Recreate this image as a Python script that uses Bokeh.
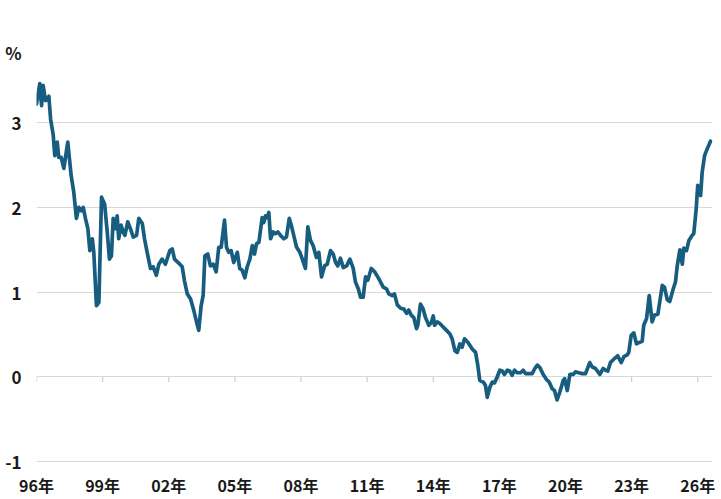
from bokeh.plotting import figure
from bokeh.models import ColumnDataSource, FixedTicker, Range1d
from bokeh.embed import file_html
from bokeh.resources import INLINE

# Japanese 10-year government bond yield (%)
years = [1996.00, 1996.15, 1996.23, 1996.30, 1996.41, 1996.56, 1996.64, 1996.76, 1996.83, 1996.94,
         1997.01, 1997.12, 1997.24, 1997.42, 1997.57, 1997.69, 1997.81, 1997.92, 1998.03, 1998.12,
         1998.22, 1998.33, 1998.42, 1998.53, 1998.60, 1998.72, 1998.83, 1998.95, 1999.09, 1999.21,
         1999.31, 1999.40, 1999.48, 1999.58, 1999.66, 1999.73, 1999.84, 1999.93, 2000.01, 2000.14,
         2000.26, 2000.39, 2000.54, 2000.64, 2000.80, 2000.90, 2001.02, 2001.17, 2001.29, 2001.44,
         2001.55, 2001.70, 2001.85, 2002.05, 2002.16, 2002.26, 2002.43, 2002.61, 2002.71, 2002.84,
         2002.99, 2003.14, 2003.26, 2003.36, 2003.47, 2003.56, 2003.64, 2003.77, 2003.89, 2004.02,
         2004.15, 2004.27, 2004.38, 2004.53, 2004.62, 2004.72, 2004.83, 2004.95, 2005.11, 2005.22,
         2005.33, 2005.45, 2005.56, 2005.68, 2005.79, 2005.89, 2005.98, 2006.09, 2006.24, 2006.31,
         2006.39, 2006.47, 2006.54, 2006.62, 2006.74, 2006.84, 2006.95, 2007.07, 2007.22, 2007.34,
         2007.47, 2007.56, 2007.67, 2007.80, 2007.95, 2008.06, 2008.20, 2008.31, 2008.43, 2008.55,
         2008.70, 2008.81, 2008.93, 2009.07, 2009.19, 2009.34, 2009.46, 2009.57, 2009.67, 2009.79,
         2009.92, 2010.07, 2010.22, 2010.37, 2010.47, 2010.60, 2010.70, 2010.82, 2010.93, 2011.03,
         2011.19, 2011.34, 2011.53, 2011.73, 2011.88, 2011.98, 2012.14, 2012.24, 2012.37, 2012.52,
         2012.67, 2012.79, 2012.89, 2013.00, 2013.12, 2013.24, 2013.30, 2013.42, 2013.53, 2013.65,
         2013.80, 2013.91, 2014.00, 2014.06, 2014.18, 2014.30, 2014.45, 2014.60, 2014.75, 2014.86,
         2014.98, 2015.09, 2015.21, 2015.31, 2015.42, 2015.57, 2015.77, 2015.92, 2016.02, 2016.11,
         2016.27, 2016.37, 2016.45, 2016.57, 2016.68, 2016.78, 2016.90, 2017.02, 2017.13, 2017.23,
         2017.36, 2017.47, 2017.58, 2017.69, 2017.81, 2017.96, 2018.08, 2018.19, 2018.34, 2018.49,
         2018.61, 2018.72, 2018.84, 2018.99, 2019.14, 2019.26, 2019.40, 2019.50, 2019.62, 2019.74,
         2019.90, 2019.96, 2020.08, 2020.20, 2020.35, 2020.45, 2020.60, 2020.76, 2020.91, 2021.10,
         2021.21, 2021.36, 2021.56, 2021.71, 2021.82, 2021.92, 2022.04, 2022.19, 2022.37, 2022.53,
         2022.65, 2022.80, 2022.87, 2022.98, 2023.10, 2023.22, 2023.37, 2023.48, 2023.55, 2023.68,
         2023.80, 2023.93, 2024.04, 2024.19, 2024.28, 2024.39, 2024.49, 2024.62, 2024.73, 2024.89,
         2024.99, 2025.07, 2025.19, 2025.30, 2025.37, 2025.49, 2025.60, 2025.75, 2025.82, 2025.93,
         2026.00, 2026.13, 2026.20, 2026.31, 2026.43, 2026.58]

yields = [3.22, 3.46, 3.20, 3.44, 3.26, 3.31, 3.04, 2.85, 2.61, 2.77,
          2.59, 2.59, 2.46, 2.77, 2.38, 2.18, 1.87, 2.00, 1.96, 2.00,
          1.87, 1.75, 1.49, 1.63, 1.47, 0.84, 0.88, 2.12, 2.04, 1.71,
          1.39, 1.43, 1.87, 1.75, 1.90, 1.63, 1.79, 1.71, 1.67, 1.83,
          1.75, 1.65, 1.67, 1.87, 1.81, 1.63, 1.47, 1.28, 1.30, 1.20,
          1.33, 1.39, 1.33, 1.49, 1.51, 1.39, 1.35, 1.30, 1.14, 0.98,
          0.92, 0.78, 0.65, 0.55, 0.84, 0.96, 1.43, 1.45, 1.31, 1.33,
          1.24, 1.53, 1.53, 1.85, 1.53, 1.47, 1.49, 1.35, 1.47, 1.28,
          1.26, 1.17, 1.30, 1.39, 1.55, 1.45, 1.57, 1.59, 1.88, 1.82,
          1.90, 1.88, 1.94, 1.63, 1.71, 1.69, 1.71, 1.67, 1.63, 1.65,
          1.87, 1.79, 1.67, 1.53, 1.47, 1.39, 1.28, 1.77, 1.61, 1.55,
          1.41, 1.47, 1.18, 1.31, 1.33, 1.49, 1.45, 1.35, 1.31, 1.40,
          1.29, 1.31, 1.39, 1.28, 1.12, 1.04, 0.94, 0.94, 1.18, 1.14,
          1.28, 1.24, 1.16, 1.06, 1.04, 0.98, 0.96, 0.98, 0.85, 0.81,
          0.80, 0.75, 0.79, 0.73, 0.70, 0.57, 0.61, 0.86, 0.81, 0.70,
          0.61, 0.64, 0.72, 0.61, 0.65, 0.63, 0.59, 0.55, 0.51, 0.45,
          0.31, 0.29, 0.39, 0.35, 0.45, 0.41, 0.33, 0.29, 0.14, -0.04,
          -0.06, -0.10, -0.24, -0.12, -0.06, -0.07, 0.00, 0.08, 0.07, 0.03,
          0.08, 0.07, 0.02, 0.08, 0.05, 0.05, 0.08, 0.04, 0.04, 0.04,
          0.10, 0.14, 0.11, 0.03, -0.03, -0.06, -0.14, -0.16, -0.27, -0.18,
          -0.04, -0.02, -0.16, 0.03, 0.03, 0.06, 0.05, 0.04, 0.04, 0.17,
          0.12, 0.10, 0.03, 0.10, 0.08, 0.07, 0.17, 0.21, 0.25, 0.17,
          0.24, 0.26, 0.29, 0.49, 0.52, 0.39, 0.41, 0.42, 0.61, 0.69,
          0.96, 0.65, 0.73, 0.74, 0.89, 1.08, 1.06, 0.91, 0.89, 1.04,
          1.12, 1.31, 1.50, 1.33, 1.52, 1.49, 1.61, 1.67, 1.69, 1.98,
          2.26, 2.14, 2.41, 2.61, 2.69, 2.78]

tick_years = [1996, 1999, 2002, 2005, 2008, 2011, 2014, 2017, 2020, 2023, 2026]
tick_labels = ["96年", "99年", "02年", "05年", "08年", "11年", "14年", "17年", "20年", "23年", "26年"]
y_ticks = [-1, 0, 1, 2, 3]
y_tick_labels = ["-1", "0", "1", "2", "3"]
unit_label = "%"
unit_pos = 3.83   # where the unit sits on the value axis

FONT = "Noto Sans CJK JP"
LINE_COLOR = "#175d80"
GRID_COLOR = "#d9d9d9"

source = ColumnDataSource(data=dict(x=years, y=yields))

p = figure(width=721, height=499, output_backend="svg", toolbar_location=None,
           x_range=Range1d(1996.0, 2026.67), y_range=Range1d(-1.079, 3.897),
           min_border_left=36, min_border_right=9, min_border_top=46, min_border_bottom=31)
p.outline_line_color = None
p.background_fill_color = "white"
p.border_fill_color = "white"

# grid
p.xgrid.grid_line_color = None
p.ygrid.grid_line_color = GRID_COLOR
p.ygrid.grid_line_width = 1
p.ygrid.ticker = FixedTicker(ticks=y_ticks)

# small tick marks hanging from the zero line at each labelled year
p.segment(x0=tick_years, y0=[0] * len(tick_years), x1=tick_years,
          y1=[-0.06] * len(tick_years), line_color="#cfcfcf", line_width=1.2)

p.line("x", "y", source=source, line_color=LINE_COLOR, line_width=3.7,
       line_join="round", line_cap="round")

# y axis (the unit "%" is shown as an extra label above the top value)
p.yaxis.ticker = FixedTicker(ticks=y_ticks + [unit_pos])
overrides = {t: s for t, s in zip(y_ticks, y_tick_labels)}
overrides[unit_pos] = unit_label
p.yaxis.major_label_overrides = overrides
p.yaxis.axis_line_color = None
p.yaxis.major_tick_line_color = None
p.yaxis.minor_tick_line_color = None
p.yaxis.major_tick_out = 0
p.yaxis.major_label_text_font = FONT
p.yaxis.major_label_text_font_size = "17px"
p.yaxis.major_label_text_font_style = "bold"
p.yaxis.major_label_text_color = "#1a1a1a"
p.yaxis.major_label_standoff = 15

# x axis (labels only)
p.xaxis.ticker = FixedTicker(ticks=tick_years)
p.xaxis.major_label_overrides = {t: s for t, s in zip(tick_years, tick_labels)}
p.xaxis.axis_line_color = None
p.xaxis.major_tick_line_color = None
p.xaxis.minor_tick_line_color = None
p.xaxis.major_tick_out = 0
p.xaxis.major_label_text_font = FONT
p.xaxis.major_label_text_font_size = "16px"
p.xaxis.major_label_text_font_style = "bold"
p.xaxis.major_label_text_color = "#1a1a1a"
p.xaxis.major_label_standoff = 4

open("out.html", "w").write(file_html(p, INLINE))
